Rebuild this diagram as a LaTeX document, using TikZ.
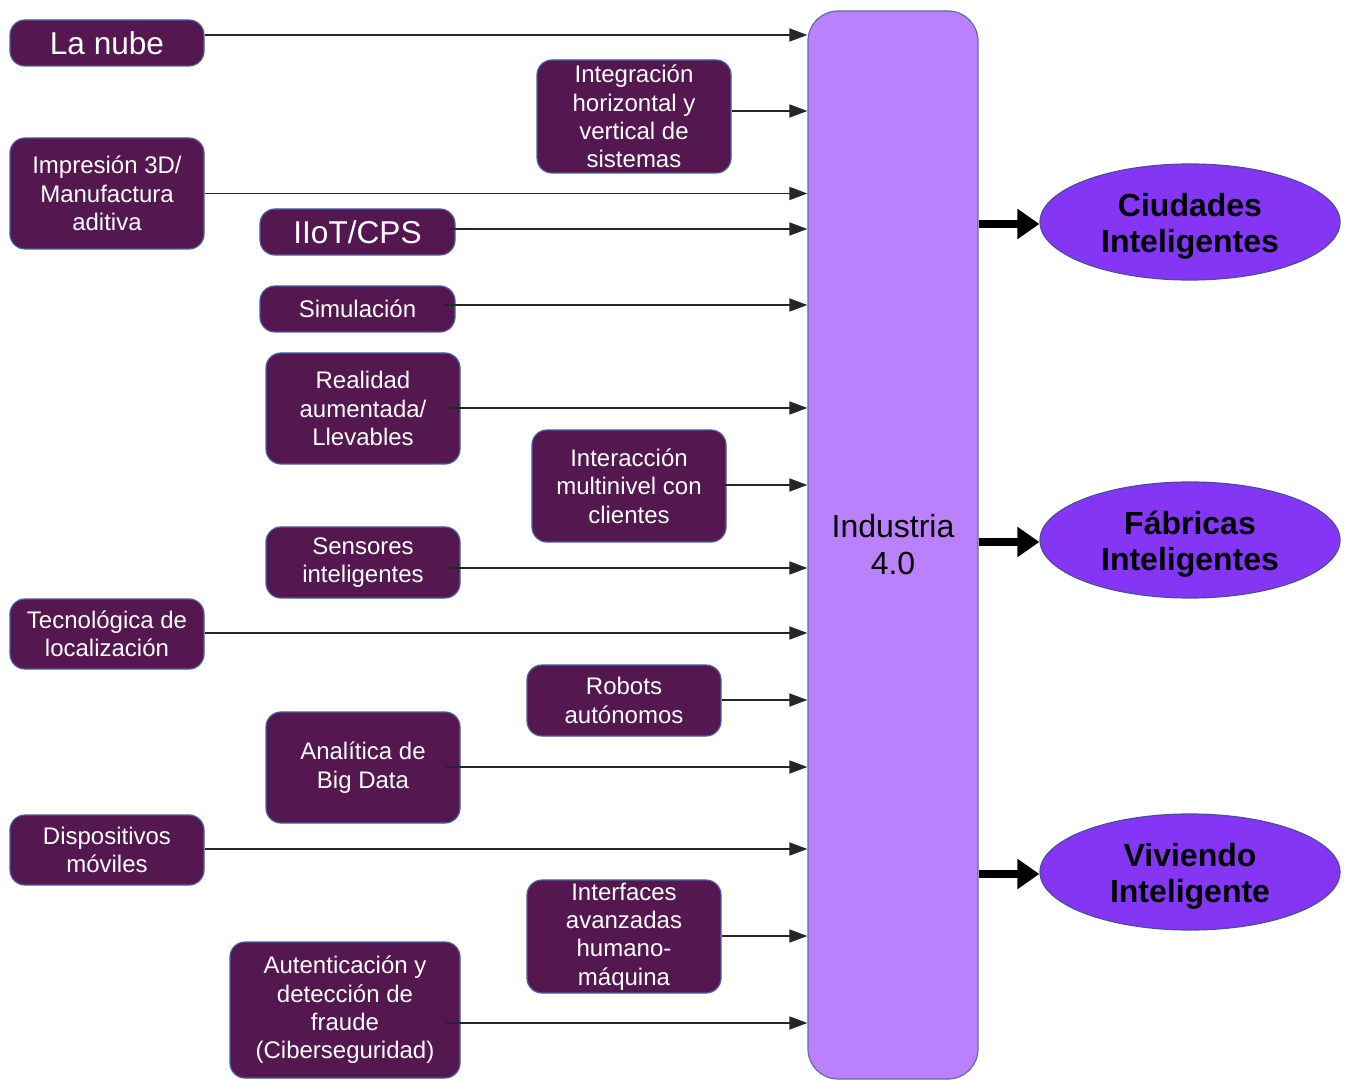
\documentclass[tikz,border=0pt]{standalone}
\usepackage{fontspec}
\setmainfont{Liberation Sans}
\usetikzlibrary{arrows.meta,shapes.geometric}
\definecolor{boxfill}{HTML}{55174F}
\definecolor{boxline}{HTML}{4A5E9C}
\definecolor{indfill}{HTML}{BB80FB}
\definecolor{indline}{HTML}{5A6FA8}
\definecolor{ellfill}{HTML}{8536F5}
\definecolor{ellline}{HTML}{4B4C9E}
\tikzset{
  techbox/.style={draw=boxline, fill=boxfill, rounded corners=7.5pt, text=white,
    align=center, inner sep=0pt, line width=0.6pt,
    font=\fontsize{12}{14.2}\selectfont},
  bigtext/.style={font=\fontsize{15.8}{18}\selectfont},
  goalell/.style={ellipse, draw=ellline, fill=ellfill, line width=0.6pt,
    minimum width=150pt, minimum height=58pt, inner sep=0pt},
  goaltext/.style={align=center, yshift=-2pt, inner sep=0pt,
    font=\bfseries\fontsize{16}{18}\selectfont},
  arr/.style={draw=black!85, line width=0.8pt, -{Triangle[length=9pt,width=6.5pt]}},
  thickarr/.style={draw=black, line width=4.2pt, -{Triangle[length=11pt,width=14.5pt]}}
}
\begin{document}
\begin{tikzpicture}[x=0.5pt,y=-0.5pt]
\useasboundingbox (0,0) rectangle (1350,1080);
% central box
\node[draw=indline, fill=indfill, rounded corners=15pt, line width=0.6pt,
  minimum width=85pt, minimum height=534pt, inner sep=0pt, align=center,
  font=\fontsize{16}{18.5}\selectfont] (ind) at (893,545) {Industria\\4.0};
% technology boxes
\node[techbox, bigtext, minimum width=97pt, minimum height=23pt] (nube) at (107,43) {La nube};
\node[techbox, minimum width=97pt, minimum height=56.5pt] (integ) at (634,116.5) {Integración\\horizontal y\\vertical de\\sistemas};
\node[techbox, minimum width=97pt, minimum height=55.5pt] (impr) at (107,193.5) {Impresión 3D/\\Manufactura\\aditiva};
\node[techbox, bigtext, minimum width=97.5pt, minimum height=23pt] (iiot) at (357.5,232) {IIoT/CPS};
\node[techbox, minimum width=97.5pt, minimum height=23pt] (sim) at (357.5,309) {Simulación};
\node[techbox, minimum width=97pt, minimum height=55.5pt] (real) at (363,408.5) {Realidad\\aumentada/\\Llevables};
\node[techbox, minimum width=97pt, minimum height=56pt] (inter) at (629,486) {Interacción\\multinivel con\\clientes};
\node[techbox, minimum width=97pt, minimum height=35.5pt] (sens) at (363,562.5) {Sensores\\inteligentes};
\node[techbox, minimum width=97pt, minimum height=35pt] (tecno) at (107,634) {Tecnológica de\\localización};
\node[techbox, minimum width=97pt, minimum height=35.5pt] (robots) at (624,700.5) {Robots\\autónomos};
\node[techbox, minimum width=97pt, minimum height=55.5pt] (anal) at (363,767.5) {Analítica de\\Big Data};
\node[techbox, minimum width=97pt, minimum height=35pt] (disp) at (107,850) {Dispositivos\\móviles};
\node[techbox, minimum width=97pt, minimum height=56.5pt] (interf) at (624,936.5) {Interfaces\\avanzadas\\humano-\\máquina};
\node[techbox, minimum width=115pt, minimum height=68pt] (auth) at (345,1010) {Autenticación y\\detección de\\fraude\\(Ciberseguridad)};
% goal ellipses
\node[goalell, label={[goaltext]center:Ciudades\\Inteligentes}] (ciud) at (1190,222) {};
\node[goalell, label={[goaltext]center:Fábricas\\Inteligentes}] (fabr) at (1190,540) {};
\node[goalell, label={[goaltext]center:Viviendo\\Inteligente}] (viv) at (1190,872) {};
% input arrows
\foreach \n/\dx/\dy in {nube/0/-8, integ/0/-5.5, impr/0/0, iiot/-8/-3, sim/-12/-4,
  real/-15/-0.5, inter/-4/-1, sens/-15/5.5, tecno/0/-1, robots/0/-0.5,
  anal/-15/-0.5, disp/0/-1, interf/0/-0.5, auth/-15/13}{
  \coordinate (s-\n) at ([shift={(\dx,\dy)}]\n.east);
  \draw[arr] (s-\n) -- (s-\n -| ind.west);
}
% output arrows
\foreach \g in {ciud,fabr,viv}{
  \draw[thickarr] ([yshift=-1pt]ind.east |- \g.west) -- ([yshift=-1pt]\g.west);
}
\end{tikzpicture}
\end{document}
